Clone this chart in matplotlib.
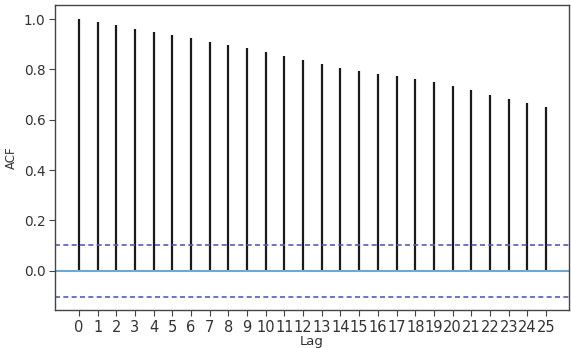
import matplotlib
matplotlib.use("Agg")
import matplotlib.pyplot as plt
import numpy as np

lags = list(range(26))
acf_values = [1.000, 0.989, 0.976, 0.961, 0.947, 0.938, 0.923, 0.910, 0.899, 0.884,
              0.870, 0.852, 0.836, 0.820, 0.807, 0.793, 0.781, 0.772, 0.760, 0.749,
              0.735, 0.717, 0.699, 0.681, 0.665, 0.649]
conf_bound = 0.103
yticks = [0.0, 0.2, 0.4, 0.6, 0.8, 1.0]

fig = plt.figure(figsize=(5.71, 3.48), dpi=100)
ax = fig.add_axes([55/571, 1 - 310/348, (569-55)/571, (310-5)/348])

ax.vlines(lags, 0, acf_values, colors="#1a1a1a", linewidth=1.6)
ax.axhline(0, color="#6fa6d2", linewidth=1.5)
ax.axhline(conf_bound, color="#4f5fbf", linestyle="--", linewidth=1.2, dashes=(3, 2))
ax.axhline(-conf_bound, color="#4f5fbf", linestyle="--", linewidth=1.2, dashes=(3, 2))

ax.set_xlim(-1.28, 26.23)
ax.set_ylim(-0.156, 1.056)
ax.set_xticks(lags)
ax.set_xticklabels([str(l) for l in lags])
ax.set_yticks(yticks)
ax.set_yticklabels([f"{v:.1f}" for v in yticks])
ax.tick_params(colors="#444444", length=4, labelcolor="#333333")
ax.tick_params(axis="x", labelsize=10.5, pad=3)
ax.tick_params(axis="y", labelsize=9.8, pad=3)
for s in ax.spines.values():
    s.set_color("#444444")
    s.set_linewidth(1.0)
ax.set_xlabel("Lag", fontsize=9.5, color="#333333", labelpad=0)
ax.set_ylabel("ACF", fontsize=8.5, color="#333333", labelpad=4)

fig.savefig("out.png", dpi=100)
